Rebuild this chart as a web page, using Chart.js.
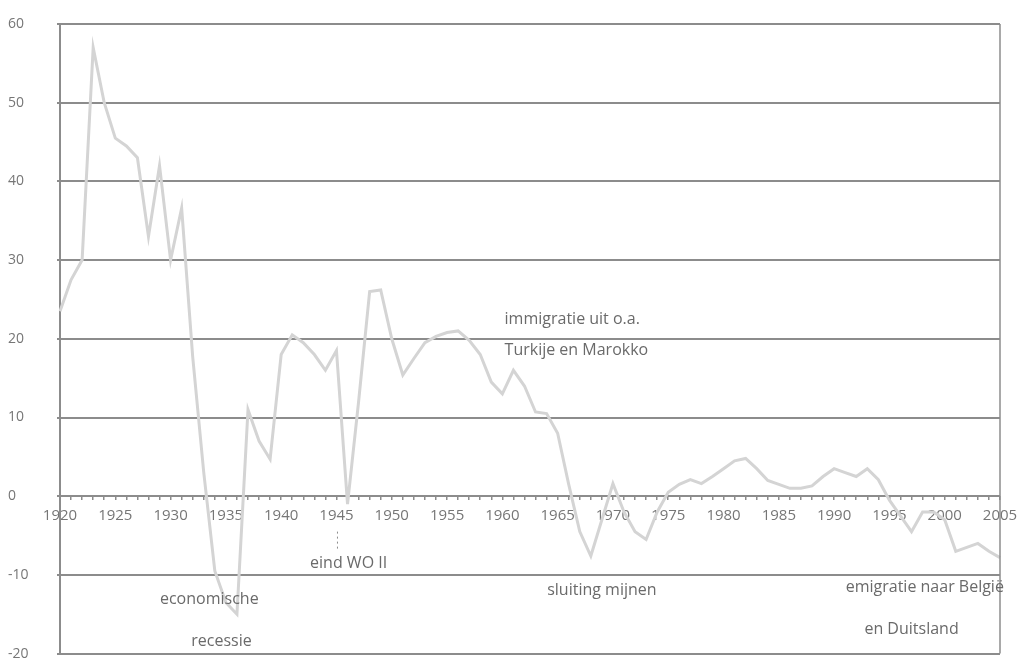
<!DOCTYPE html>
<html>
<head>
<meta charset="utf-8">
<script src="https://cdn.jsdelivr.net/npm/chart.js@4/dist/chart.umd.min.js"></script>
<style>
  html, body { margin: 0; padding: 0; background: #ffffff; }
  #wrap { width: 1017px; height: 665px; }
</style>
</head>
<body>
<div id="wrap"><canvas id="c" width="1017" height="665"></canvas></div>
<script>
// ---- data ----
const years = [];
for (let y = 1920; y <= 2005; y++) years.push(y);

const values = [
  23.5, 27.5, 30, 57, 50, 45.5, 44.5, 43, 33, 42,      // 1920-1929
  30, 36.6, 17.7, 3, -9.5, -13.5, -15, 11, 7, 4.7,      // 1930-1939
  18, 20.5, 19.5, 18, 16, 18.5, -1, 12, 26, 26.2,       // 1940-1949
  20, 15.4, 17.5, 19.5, 20.3, 20.8, 21, 19.8, 18, 14.5, // 1950-1959
  13, 16, 14, 10.7, 10.5, 8, 1.5, -4.5, -7.6, -3,       // 1960-1969
  1.6, -2, -4.5, -5.5, -2, 0.5, 1.5, 2.1, 1.6, 2.5,     // 1970-1979
  3.5, 4.5, 4.8, 3.5, 2, 1.5, 1, 1, 1.3, 2.5,           // 1980-1989
  3.5, 3, 2.5, 3.5, 2.1, -0.5, -2.5, -4.5, -2, -2,      // 1990-1999
  -3, -7, -6.5, -6, -7, -7.8                            // 2000-2005
];

const xTickYears = [1920,1925,1930,1935,1940,1945,1950,1955,1960,1965,1970,1975,1980,1985,1990,1995,2000,2005];
const yTickValues = [-20,-10,0,10,20,30,40,50,60];

const annotationTexts = ["immigratie uit o.a.", "Turkije en Marokko", "eind WO II", "economische", "recessie", "sluiting mijnen", "emigratie naar België", "en Duitsland"];
const annotationYears = [1960.2, 1960.2, 1946.1, 1933.5, 1934.6, 1969.0, 1998.2, 1997.0];
const annotationValues = [22.4, 18.5, -8.6, -13.1, -18.4, -12.0, -11.6, -16.9];
const annotationAlign = ["left", "left", "center", "center", "center", "center", "center", "center"];

// ---- styling ----
const gridColor = '#8c8c8c';
const textColor = '#767676';
const fontFamily = "'Open Sans', 'DejaVu Sans', sans-serif";

const annotationPlugin = {
  id: 'annots',
  afterDatasetsDraw(chart) {
    const ctx = chart.ctx;
    const xs = chart.scales.x, ys = chart.scales.y;
    const area = chart.chartArea;
    ctx.save();
    // right border
    ctx.strokeStyle = gridColor;
    ctx.lineWidth = 1.5;
    ctx.beginPath();
    ctx.moveTo(area.right, area.top);
    ctx.lineTo(area.right, area.bottom);
    ctx.stroke();
    // pointer under "eind WO II"
    const px = xs.getPixelForValue(1945 - 1920);
    ctx.setLineDash([2, 3]);
    ctx.lineWidth = 1;
    ctx.beginPath();
    ctx.moveTo(px + 1, ys.getPixelForValue(-4.5));
    ctx.lineTo(px + 1, ys.getPixelForValue(-7));
    ctx.stroke();
    ctx.setLineDash([]);
    // texts
    ctx.fillStyle = '#6a6a6a';
    ctx.font = "16px " + fontFamily;
    ctx.textBaseline = 'middle';
    for (let i = 0; i < annotationTexts.length; i++) {
      ctx.textAlign = annotationAlign[i];
      ctx.fillText(annotationTexts[i],
        xs.getPixelForValue(annotationYears[i] - 1920),
        ys.getPixelForValue(annotationValues[i]));
    }
    ctx.restore();
  }
};

new Chart(document.getElementById('c'), {
  type: 'line',
  data: {
    labels: years,
    datasets: [{
      data: values,
      borderColor: '#d4d4d4',
      borderWidth: 3,
      pointRadius: 0,
      tension: 0,
      fill: false
    }]
  },
  options: {
    responsive: false,
    animation: false,
    devicePixelRatio: 1,
    layout: { padding: { left: 8, top: 24, right: 17, bottom: 7 } },
    plugins: { legend: { display: false }, tooltip: { enabled: false } },
    scales: {
      x: {
        type: 'category',
        position: { y: 0 },
        offset: false,
        afterFit(scale) { scale.paddingLeft = 0; scale.paddingRight = 0; },
        border: { display: false },
        grid: {
          display: true,
          drawOnChartArea: false,
          drawTicks: true,
          tickLength: 4,
          color: gridColor,
          lineWidth: 1.5
        },
        ticks: {
          autoSkip: false,
          maxRotation: 0,
          minRotation: 0,
          padding: 7,
          color: textColor,
          font: { family: fontFamily, size: 15 },
          callback: function(v, i) {
            const yr = years[i];
            return xTickYears.includes(yr) ? String(yr) : '';
          }
        }
      },
      y: {
        min: -20,
        max: 60,
        afterFit(scale) { scale.width = 52; },
        afterBuildTicks(scale) { scale.ticks = yTickValues.map(v => ({ value: v })); },
        border: { display: true, color: gridColor, width: 2 },
        grid: {
          color: gridColor,
          lineWidth: 2,
          drawTicks: true,
          tickLength: 3
        },
        ticks: {
          crossAlign: 'far',
          color: textColor,
          font: { family: fontFamily, size: 14 }
        }
      }
    }
  },
  plugins: [annotationPlugin]
});
</script>
</body>
</html>
